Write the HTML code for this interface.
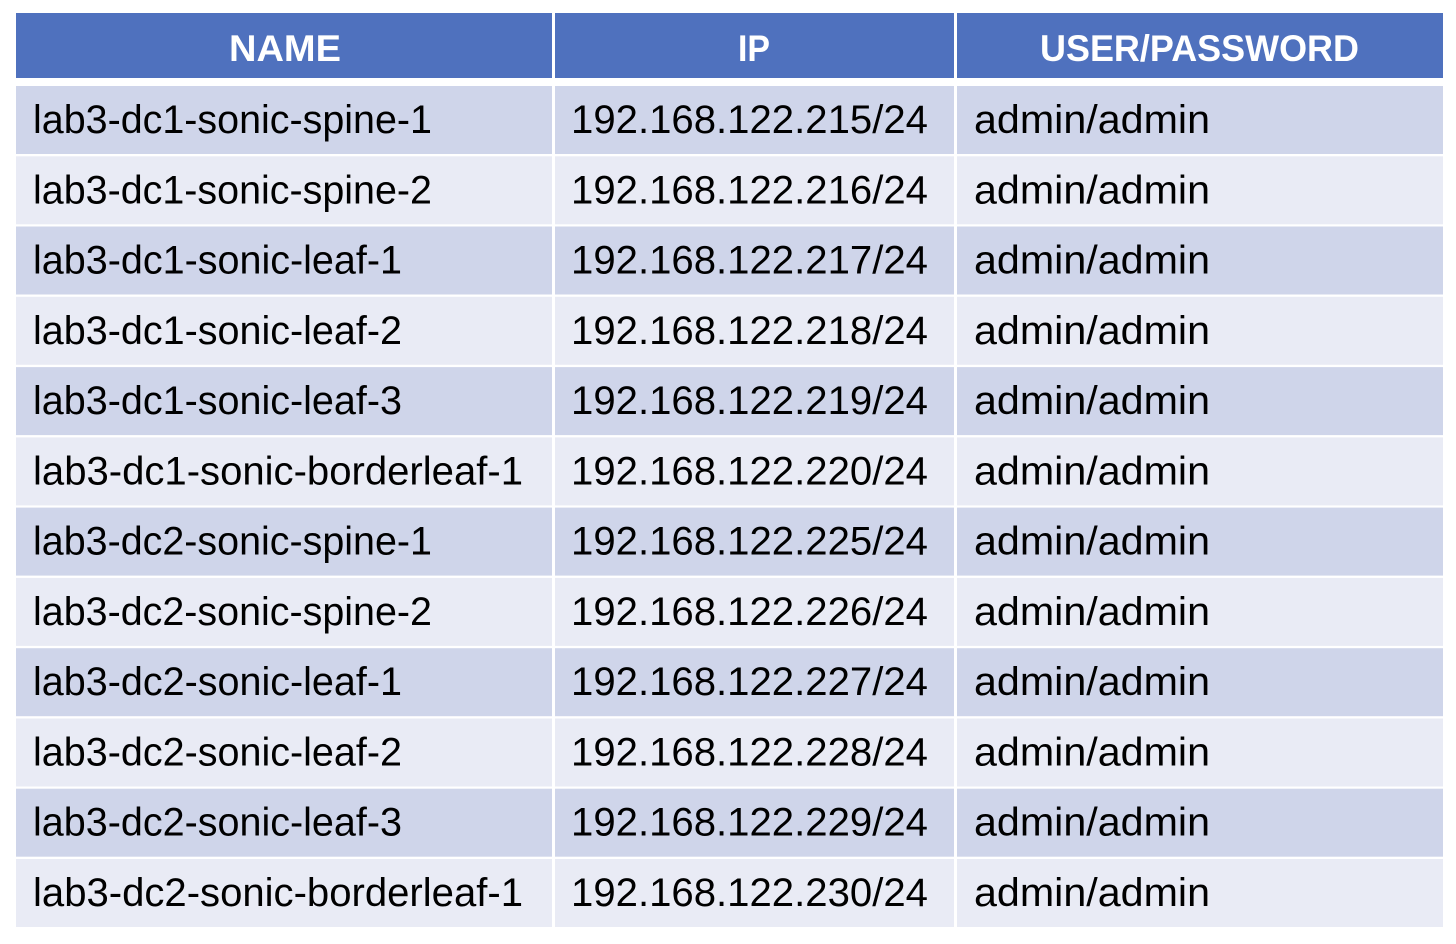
<!DOCTYPE html>
<html><head><meta charset="utf-8"><style>
html,body{margin:0;padding:0;background:#fff;overflow:hidden;}
svg{display:block;}
text{font-family:"Liberation Sans",sans-serif;}
</style></head><body>
<svg width="1456" height="944" viewBox="0 0 1456 944" xmlns="http://www.w3.org/2000/svg">
<rect x="0" y="0" width="1456" height="944" fill="#fff"/>
<rect x="16" y="13" width="536" height="65" fill="#4f71be"/>
<rect x="555" y="13" width="399" height="65" fill="#4f71be"/>
<rect x="957" y="13" width="486" height="65" fill="#4f71be"/>
<g fill="#fff" font-weight="bold" font-size="37">
<text x="229" y="61" textLength="112" lengthAdjust="spacingAndGlyphs">NAME</text>
<text x="738" y="61" textLength="32" lengthAdjust="spacingAndGlyphs">IP</text>
<text x="1040" y="61" textLength="319" lengthAdjust="spacingAndGlyphs">USER/PASSWORD</text>
</g>
<g fill="#cfd5ea">
<rect x="16" y="86" width="536" height="68"/><rect x="555" y="86" width="399" height="68"/><rect x="957" y="86" width="486" height="68"/>
<rect x="16" y="226.5" width="536" height="68"/><rect x="555" y="226.5" width="399" height="68"/><rect x="957" y="226.5" width="486" height="68"/>
<rect x="16" y="367.1" width="536" height="68"/><rect x="555" y="367.1" width="399" height="68"/><rect x="957" y="367.1" width="486" height="68"/>
<rect x="16" y="507.6" width="536" height="68"/><rect x="555" y="507.6" width="399" height="68"/><rect x="957" y="507.6" width="486" height="68"/>
<rect x="16" y="648.2" width="536" height="68"/><rect x="555" y="648.2" width="399" height="68"/><rect x="957" y="648.2" width="486" height="68"/>
<rect x="16" y="788.7" width="536" height="68"/><rect x="555" y="788.7" width="399" height="68"/><rect x="957" y="788.7" width="486" height="68"/>
</g>
<g fill="#e9ebf5">
<rect x="16" y="156.3" width="536" height="68"/><rect x="555" y="156.3" width="399" height="68"/><rect x="957" y="156.3" width="486" height="68"/>
<rect x="16" y="296.8" width="536" height="68"/><rect x="555" y="296.8" width="399" height="68"/><rect x="957" y="296.8" width="486" height="68"/>
<rect x="16" y="437.4" width="536" height="68"/><rect x="555" y="437.4" width="399" height="68"/><rect x="957" y="437.4" width="486" height="68"/>
<rect x="16" y="577.9" width="536" height="68"/><rect x="555" y="577.9" width="399" height="68"/><rect x="957" y="577.9" width="486" height="68"/>
<rect x="16" y="718.5" width="536" height="68"/><rect x="555" y="718.5" width="399" height="68"/><rect x="957" y="718.5" width="486" height="68"/>
<rect x="16" y="859" width="536" height="68"/><rect x="555" y="859" width="399" height="68"/><rect x="957" y="859" width="486" height="68"/>
</g>
<g font-size="40" fill="#000">
<text x="33" y="133" textLength="399" lengthAdjust="spacingAndGlyphs">lab3-dc1-sonic-spine-1</text>
<text x="571" y="133" textLength="357" lengthAdjust="spacingAndGlyphs">192.168.122.215/24</text>
<text x="974" y="133" textLength="236" lengthAdjust="spacingAndGlyphs">admin/admin</text>
<text x="33" y="203.3" textLength="399" lengthAdjust="spacingAndGlyphs">lab3-dc1-sonic-spine-2</text>
<text x="571" y="203.3" textLength="357" lengthAdjust="spacingAndGlyphs">192.168.122.216/24</text>
<text x="974" y="203.3" textLength="236" lengthAdjust="spacingAndGlyphs">admin/admin</text>
<text x="33" y="273.5" textLength="369" lengthAdjust="spacingAndGlyphs">lab3-dc1-sonic-leaf-1</text>
<text x="571" y="273.5" textLength="357" lengthAdjust="spacingAndGlyphs">192.168.122.217/24</text>
<text x="974" y="273.5" textLength="236" lengthAdjust="spacingAndGlyphs">admin/admin</text>
<text x="33" y="343.8" textLength="369" lengthAdjust="spacingAndGlyphs">lab3-dc1-sonic-leaf-2</text>
<text x="571" y="343.8" textLength="357" lengthAdjust="spacingAndGlyphs">192.168.122.218/24</text>
<text x="974" y="343.8" textLength="236" lengthAdjust="spacingAndGlyphs">admin/admin</text>
<text x="33" y="414.1" textLength="369" lengthAdjust="spacingAndGlyphs">lab3-dc1-sonic-leaf-3</text>
<text x="571" y="414.1" textLength="357" lengthAdjust="spacingAndGlyphs">192.168.122.219/24</text>
<text x="974" y="414.1" textLength="236" lengthAdjust="spacingAndGlyphs">admin/admin</text>
<text x="33" y="484.4" textLength="490" lengthAdjust="spacingAndGlyphs">lab3-dc1-sonic-borderleaf-1</text>
<text x="571" y="484.4" textLength="357" lengthAdjust="spacingAndGlyphs">192.168.122.220/24</text>
<text x="974" y="484.4" textLength="236" lengthAdjust="spacingAndGlyphs">admin/admin</text>
<text x="33" y="554.6" textLength="399" lengthAdjust="spacingAndGlyphs">lab3-dc2-sonic-spine-1</text>
<text x="571" y="554.6" textLength="357" lengthAdjust="spacingAndGlyphs">192.168.122.225/24</text>
<text x="974" y="554.6" textLength="236" lengthAdjust="spacingAndGlyphs">admin/admin</text>
<text x="33" y="624.9" textLength="399" lengthAdjust="spacingAndGlyphs">lab3-dc2-sonic-spine-2</text>
<text x="571" y="624.9" textLength="357" lengthAdjust="spacingAndGlyphs">192.168.122.226/24</text>
<text x="974" y="624.9" textLength="236" lengthAdjust="spacingAndGlyphs">admin/admin</text>
<text x="33" y="695.2" textLength="369" lengthAdjust="spacingAndGlyphs">lab3-dc2-sonic-leaf-1</text>
<text x="571" y="695.2" textLength="357" lengthAdjust="spacingAndGlyphs">192.168.122.227/24</text>
<text x="974" y="695.2" textLength="236" lengthAdjust="spacingAndGlyphs">admin/admin</text>
<text x="33" y="765.5" textLength="369" lengthAdjust="spacingAndGlyphs">lab3-dc2-sonic-leaf-2</text>
<text x="571" y="765.5" textLength="357" lengthAdjust="spacingAndGlyphs">192.168.122.228/24</text>
<text x="974" y="765.5" textLength="236" lengthAdjust="spacingAndGlyphs">admin/admin</text>
<text x="33" y="835.7" textLength="369" lengthAdjust="spacingAndGlyphs">lab3-dc2-sonic-leaf-3</text>
<text x="571" y="835.7" textLength="357" lengthAdjust="spacingAndGlyphs">192.168.122.229/24</text>
<text x="974" y="835.7" textLength="236" lengthAdjust="spacingAndGlyphs">admin/admin</text>
<text x="33" y="906" textLength="490" lengthAdjust="spacingAndGlyphs">lab3-dc2-sonic-borderleaf-1</text>
<text x="571" y="906" textLength="357" lengthAdjust="spacingAndGlyphs">192.168.122.230/24</text>
<text x="974" y="906" textLength="236" lengthAdjust="spacingAndGlyphs">admin/admin</text>
</g>
</svg>
</body></html>
